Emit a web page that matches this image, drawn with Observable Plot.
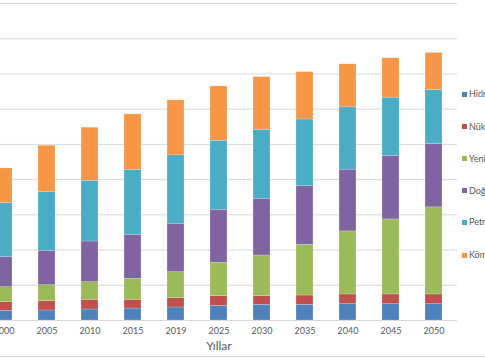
<!DOCTYPE html>
<html><head><meta charset="utf-8">
<script src="https://cdn.jsdelivr.net/npm/d3@7"></script>
<script src="https://cdn.jsdelivr.net/npm/@observablehq/plot@0.6"></script>
<style>
html,body{margin:0;padding:0;background:#fff;overflow:hidden;width:485px;height:360px;}
#wrap{position:relative;width:485px;height:360px;overflow:hidden;}
#chart{position:absolute;left:-20px;top:0;}
#legend{position:absolute;left:462px;top:0;width:60px;height:360px;font-family:Lato,sans-serif;font-size:9px;color:#595959;white-space:nowrap;}
.item{position:absolute;left:0;height:12px;line-height:12px;display:flex;align-items:center;}
.sw{width:5px;height:5px;margin-right:2px;flex:none;}
#border{position:absolute;left:0;top:356px;width:485px;height:0;border-top:1px solid #D9D9D9;}
</style>
</head><body>
<div id="wrap"><div id="chart"></div><div id="legend"></div><div id="border"></div></div>
<script>
const years = ["2000","2005","2010","2015","2019","2025","2030","2035","2040","2045","2050"];
const sources = ["Hidroelektrik","Nükleer","Yenilenebilir","Doğalgaz","Petrol","Kömür"];
const colors = ["#4F81BD","#C0504D","#9BBB59","#8064A2","#4BACC6","#F79646"];
const hidro = [13.8,14.2,15.6,17,18.5,20.9,22.3,22.3,23.2,23.2,23.2];
const nukleer = [12.2,13.2,13.8,12.4,13.2,13.6,12.2,13.2,13.8,13.8,13.8];
const yenilenebilir = [21.3,22.7,25,29.8,36.9,47.4,57.8,72,89.5,106.5,123.6];
const dogalgaz = [42.6,48.9,57.8,62.5,68.8,75.3,80.5,83.2,87.6,89.9,89.9];
const petrol = [76.7,83.2,86.2,92.3,97,98,98,94.7,88.5,83,76.7];
const komur = [49.3,65.9,75.3,78.6,78.1,77.1,74.7,67.2,61.1,55.8,52.6];
const gridTicks = [0,50,100,150,200,250,300,350,400,450];

const seriesValues = [hidro, nukleer, yenilenebilir, dogalgaz, petrol, komur];
const table = [];
years.forEach((yr, i) => {
  sources.forEach((s, j) => table.push({year: yr, source: s, value: seriesValues[j][i]}));
});

const chart = Plot.plot({
  width: 505, height: 360,
  marginLeft: 0, marginRight: 28, marginTop: 3, marginBottom: 40,
  style: {fontFamily: "Lato, sans-serif", fontSize: "9px", color: "#595959", background: "transparent"},
  x: {domain: years, paddingInner: 0.61, paddingOuter: 0.305, label: null, tickSize: 0, tickPadding: 7},
  y: {domain: [0, 450], axis: null},
  color: {domain: sources, range: colors},
  marks: [
    Plot.ruleY(gridTicks, {stroke: "#D9D9D9", strokeWidth: 1}),
    Plot.barY(table, {x: "year", y: "value", fill: "source", order: sources, stroke: "white", strokeOpacity: 0.4, strokeWidth: 0.5}),
    Plot.text(["Yıllar"], {frameAnchor: "bottom", dy: 29, fontSize: 12, fill: "#595959"})
  ]
});
document.getElementById("chart").appendChild(chart);

const legendY = [94, 126.5, 158.5, 190.7, 222, 255];
const legend = document.getElementById("legend");
sources.forEach((s, i) => {
  const it = document.createElement("div");
  it.className = "item";
  it.style.top = (legendY[i] - 6) + "px";
  const sw = document.createElement("span");
  sw.className = "sw";
  sw.style.background = colors[i];
  const tx = document.createElement("span");
  tx.textContent = s;
  it.appendChild(sw); it.appendChild(tx);
  legend.appendChild(it);
});
</script>
</body></html>
